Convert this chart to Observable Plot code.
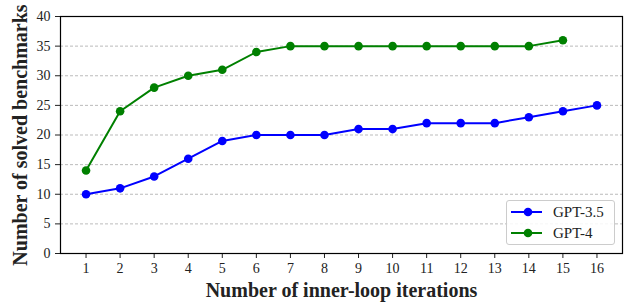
<!DOCTYPE html>
<html>
<head>
<meta charset="utf-8">
<script src="https://cdn.jsdelivr.net/npm/d3@7"></script>
<script src="https://cdn.jsdelivr.net/npm/@observablehq/plot@0.6"></script>
<style>
  html, body { margin: 0; padding: 0; background: #fff; }
  #wrap { position: relative; width: 637px; height: 303px; }
  #wrap svg, #wrap svg text { font-family: "Liberation Serif", serif !important; }
  #legend { position: absolute; left: 506px; top: 200px; width: 109px; height: 45px;
    border: 1px solid #ccc; border-radius: 3px; background: rgba(255,255,255,0.85);
    font-family: "Liberation Serif", serif; font-size: 15px; box-sizing: border-box; }
  .item { position: absolute; left: 3px; height: 20px; display: flex; align-items: center; }
  .item span { margin-left: 10px; color: #222; }
</style>
</head>
<body>
<div id="wrap"></div>
<script>
const iterations = d3.range(1, 17);
const gpt35 = [10, 11, 13, 16, 19, 20, 20, 20, 21, 21, 22, 22, 22, 23, 24, 25];
const gpt4 = [14, 24, 28, 30, 31, 34, 35, 35, 35, 35, 35, 35, 35, 35, 36];
const seriesNames = ["GPT-3.5", "GPT-4"];
const seriesColors = ["#0000ff", "#008000"];
const yTicks = d3.range(0, 41, 5);
const gridTicks = d3.range(5, 40, 5);

const rows = [];
gpt35.forEach((v, i) => rows.push({x: iterations[i], y: v, s: seriesNames[0]}));
gpt4.forEach((v, i) => rows.push({x: iterations[i], y: v, s: seriesNames[1]}));

const font = "Liberation Serif, serif";
const chart = Plot.plot({
  width: 637,
  height: 303,
  marginTop: 16,
  marginBottom: 50,
  marginLeft: 60,
  marginRight: 15,
  style: {fontFamily: font, fontSize: "14px", color: "#222", background: "white"},
  x: {domain: [0.25, 16.75]},
  y: {domain: [0, 40]},
  color: {domain: seriesNames, range: seriesColors},
  marks: [
    Plot.gridY(gridTicks, {stroke: "#aaa", strokeOpacity: 1, strokeDasharray: "3,2", strokeWidth: 0.8}),
    Plot.axisX(iterations, {tickSize: 5, tickPadding: 5, label: "Number of inner-loop iterations",
      labelAnchor: "center", labelArrow: "none", labelOffset: 43, fontSize: 14}),
    Plot.axisY(yTicks, {tickSize: 5, tickPadding: 5, label: "Number of solved benchmarks",
      labelAnchor: "center", labelArrow: "none", labelOffset: 48, fontSize: 14}),
    Plot.line(rows, {x: "x", y: "y", stroke: "s", z: "s", strokeWidth: 2}),
    Plot.dot(rows, {x: "x", y: "y", fill: "s", r: 4.3}),
    Plot.frame({stroke: "black", strokeWidth: 1.2})
  ]
});
chart.querySelectorAll("g[aria-label='x-axis label'] text, g[aria-label='y-axis label'] text").forEach(t => {
  t.setAttribute("font-weight", "bold");
  t.setAttribute("font-size", "20px");
});
document.getElementById("wrap").appendChild(chart);

const legend = document.createElement("div");
legend.id = "legend";
seriesNames.forEach((name, i) => {
  const item = document.createElement("div");
  item.className = "item";
  item.style.top = (1 + i * 21) + "px";
  item.innerHTML = `<svg width="33" height="20"><line x1="1" x2="32" y1="10" y2="10" stroke="${seriesColors[i]}" stroke-width="2"/><circle cx="18" cy="10" r="4.3" fill="${seriesColors[i]}"/></svg><span>${name}</span>`;
  legend.appendChild(item);
});
document.getElementById("wrap").appendChild(legend);
</script>
</body>
</html>
